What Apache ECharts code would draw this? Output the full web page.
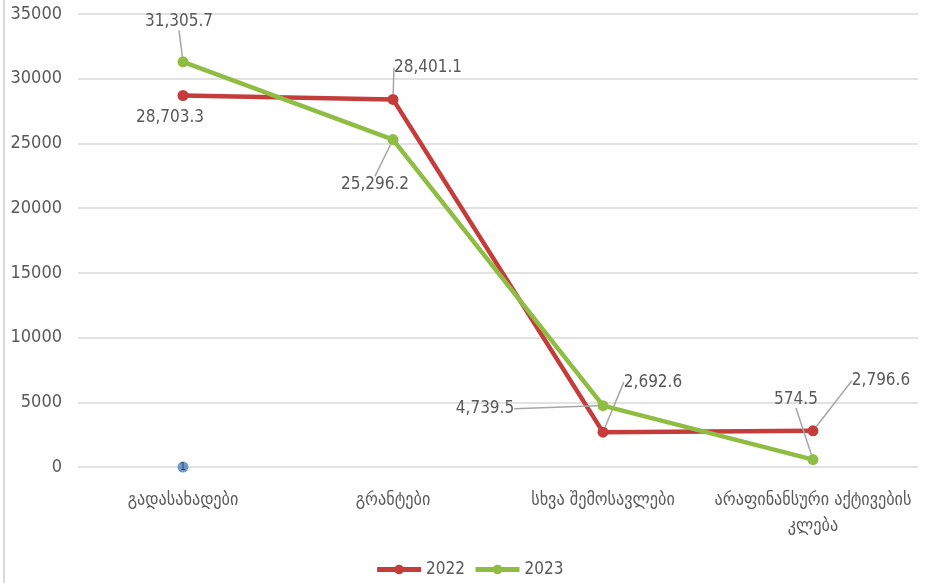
<!DOCTYPE html>
<html><head><meta charset="utf-8">
<script src="https://cdn.jsdelivr.net/npm/echarts@6/dist/echarts.min.js"></script>
<style>html,body{margin:0;padding:0;background:#fff}#c{width:938px;height:583px}</style>
</head><body><div id="c"></div>
<script>
const categories = ['გადასახადები', 'გრანტები', 'სხვა შემოსავლები', 'არაფინანსური აქტივების კლება'];
const values2022 = [28703.3, 28401.1, 2692.6, 2796.6];
const values2023 = [31305.7, 25296.2, 4739.5, 574.5];
const markerValues = [0, null, null, null];
const yTicks = {min: 0, max: 35000, interval: 5000};

// label offsets (relative to point) and leader-line visibility
const off2022 = [[-13, 22], [35, -32], [50, -50], [68, -50]];
const off2023 = [[-4, -40], [-18, 45], [-118, 3], [-17, -60]];
const guide2022 = [false, true, true, true];
const guide2023 = [true, true, true, true];

const FONT = '"Liberation Sans Narrow", "DejaVu Sans Condensed", "DejaVu Sans", sans-serif';
const fmt = v => v.toLocaleString('en-US', {minimumFractionDigits: 1, maximumFractionDigits: 1});

const chart = echarts.init(document.getElementById('c'));
function lineSeries(name, values, color, offs, guides) {
  return {
    name, type: 'line',
    data: values.map((v, i) => ({value: v, labelLine: {show: guides[i]}})),
    symbol: 'circle', symbolSize: 11,
    lineStyle: {width: 4.5, color},
    itemStyle: {color},
    z: name === '2023' ? 3 : 2,
    label: {
      show: true, position: 'inside',
      formatter: p => fmt(p.value),
      color: '#595959', fontSize: 17, fontFamily: FONT
    },
    labelLine: {show: true, lineStyle: {color: '#a6a6a6', width: 1.5}, length2: 0, minTurnAngle: 0},
    labelLayout: p => ({dx: offs[p.dataIndex][0], dy: offs[p.dataIndex][1]}),
    animation: false
  };
}
chart.setOption({
  animation: false,
  grid: {left: 78, right: 20, top: 14, bottom: 116},
  legend: {
    data: ['2022', '2023'], bottom: 0, left: 'center',
    itemWidth: 44, itemHeight: 12, itemGap: 8,
    lineStyle: {width: 5},
    textStyle: {color: '#595959', fontSize: 17, fontFamily: FONT}
  },
  xAxis: {
    type: 'category', data: categories, boundaryGap: true,
    axisLine: {show: false}, axisTick: {show: false},
    axisLabel: {
      color: '#595959', fontSize: 18, fontFamily: '"DejaVu Sans Condensed", "DejaVu Sans", sans-serif',
      margin: 20, lineHeight: 26, interval: 0,
      formatter: v => v.length > 20 ? v.replace(/ (\S+)$/, '\n$1') : v
    }
  },
  yAxis: {
    type: 'value', min: yTicks.min, max: yTicks.max, interval: yTicks.interval,
    axisLine: {show: false}, axisTick: {show: false},
    axisLabel: {color: '#595959', fontSize: 18, fontFamily: FONT, margin: 16, formatter: v => String(v)},
    splitLine: {lineStyle: {color: '#d9d9d9', width: 1.5}}
  },
  graphic: [{type: 'rect', left: 3, top: 0, shape: {width: 2, height: 583}, style: {fill: '#d9d9d9'}, silent: true}],
  series: [
    lineSeries('2022', values2022, '#c43d3b', off2022, guide2022),
    lineSeries('2023', values2023, '#8fbd44', off2023, guide2023),
    {
      name: 'marker', type: 'scatter', data: markerValues, symbol: 'circle', symbolSize: 11,
      itemStyle: {color: '#4f81bd'}, z: 4,
      label: {show: true, position: 'inside', formatter: () => '1', color: '#1f3050', fontSize: 11, fontFamily: FONT}
    }
  ]
});
</script></body></html>
